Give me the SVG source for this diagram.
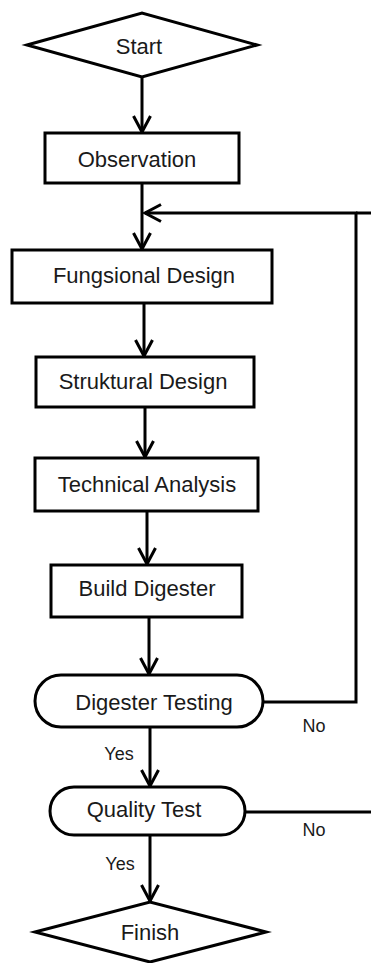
<svg xmlns="http://www.w3.org/2000/svg" width="371" height="963" viewBox="0 0 371 963">
<style>
.shape{fill:#fff;stroke:#000;stroke-width:3}
.conn{fill:none;stroke:#000;stroke-width:3}
.t{font-family:"Liberation Sans",Arial,sans-serif;font-size:22px;fill:#1a1a1a;text-anchor:middle}
.lbl{font-family:"Liberation Sans",Arial,sans-serif;font-size:18px;fill:#1a1a1a;text-anchor:middle}
</style>
<defs>
<marker id="arr" markerUnits="userSpaceOnUse" markerWidth="24" markerHeight="24" viewBox="-20 -12 24 24" refX="0" refY="0" orient="auto">
<path d="M-16,-8.5 L0,0 L-16,8.5" fill="none" stroke="#000" stroke-width="3"/>
</marker>
</defs>
<rect width="371" height="963" fill="#fff"/>
<g id="connectors">
<line class="conn" x1="142" y1="77" x2="142" y2="132" marker-end="url(#arr)"/>
<line class="conn" x1="142" y1="183" x2="142" y2="249" marker-end="url(#arr)"/>
<polyline class="conn" points="371,213 356,213"/>
<polyline class="conn" points="263,702 356,702 356,213 145,213" marker-end="url(#arr)"/>
<line class="conn" x1="144" y1="303" x2="144" y2="356" marker-end="url(#arr)"/>
<line class="conn" x1="145" y1="407" x2="145" y2="457" marker-end="url(#arr)"/>
<line class="conn" x1="147" y1="511" x2="147" y2="564" marker-end="url(#arr)"/>
<line class="conn" x1="149" y1="617" x2="149" y2="674" marker-end="url(#arr)"/>
<line class="conn" x1="150" y1="727" x2="150" y2="786" marker-end="url(#arr)"/>
<line class="conn" x1="245" y1="812" x2="371" y2="812"/>
<line class="conn" x1="150" y1="835" x2="150" y2="901" marker-end="url(#arr)"/>
<text class="lbl" x="314" y="732">No</text>
<text class="lbl" x="119" y="760">Yes</text>
<text class="lbl" x="314" y="836">No</text>
<text class="lbl" x="120" y="870">Yes</text>
</g>
<g id="start">
<polygon class="shape" points="27,45 142,13 257,45 142,77"/>
<text class="t" x="139" y="54">Start</text>
</g>
<g id="observation">
<rect class="shape" x="45" y="133" width="194" height="50"/>
<text class="t" x="137" y="167">Observation</text>
</g>
<g id="fungsional-design">
<rect class="shape" x="12" y="250" width="260" height="53"/>
<text class="t" x="144" y="283">Fungsional Design</text>
</g>
<g id="struktural-design">
<rect class="shape" x="36" y="357" width="218" height="50"/>
<text class="t" x="143" y="389">Struktural Design</text>
</g>
<g id="technical-analysis">
<rect class="shape" x="35" y="458" width="223" height="53"/>
<text class="t" x="147" y="492">Technical Analysis</text>
</g>
<g id="build-digester">
<rect class="shape" x="51" y="565" width="191" height="52"/>
<text class="t" x="147" y="596">Build Digester</text>
</g>
<g id="digester-testing">
<rect class="shape" x="35" y="675" width="228" height="52" rx="26" ry="26"/>
<text class="t" x="154" y="710">Digester Testing</text>
</g>
<g id="quality-test">
<rect class="shape" x="50" y="787" width="195" height="48" rx="24" ry="24"/>
<text class="t" x="144" y="817">Quality Test</text>
</g>
<g id="finish">
<polygon class="shape" points="35,932 150,902 266,932 150,962"/>
<text class="t" x="150" y="940">Finish</text>
</g>
</svg>
